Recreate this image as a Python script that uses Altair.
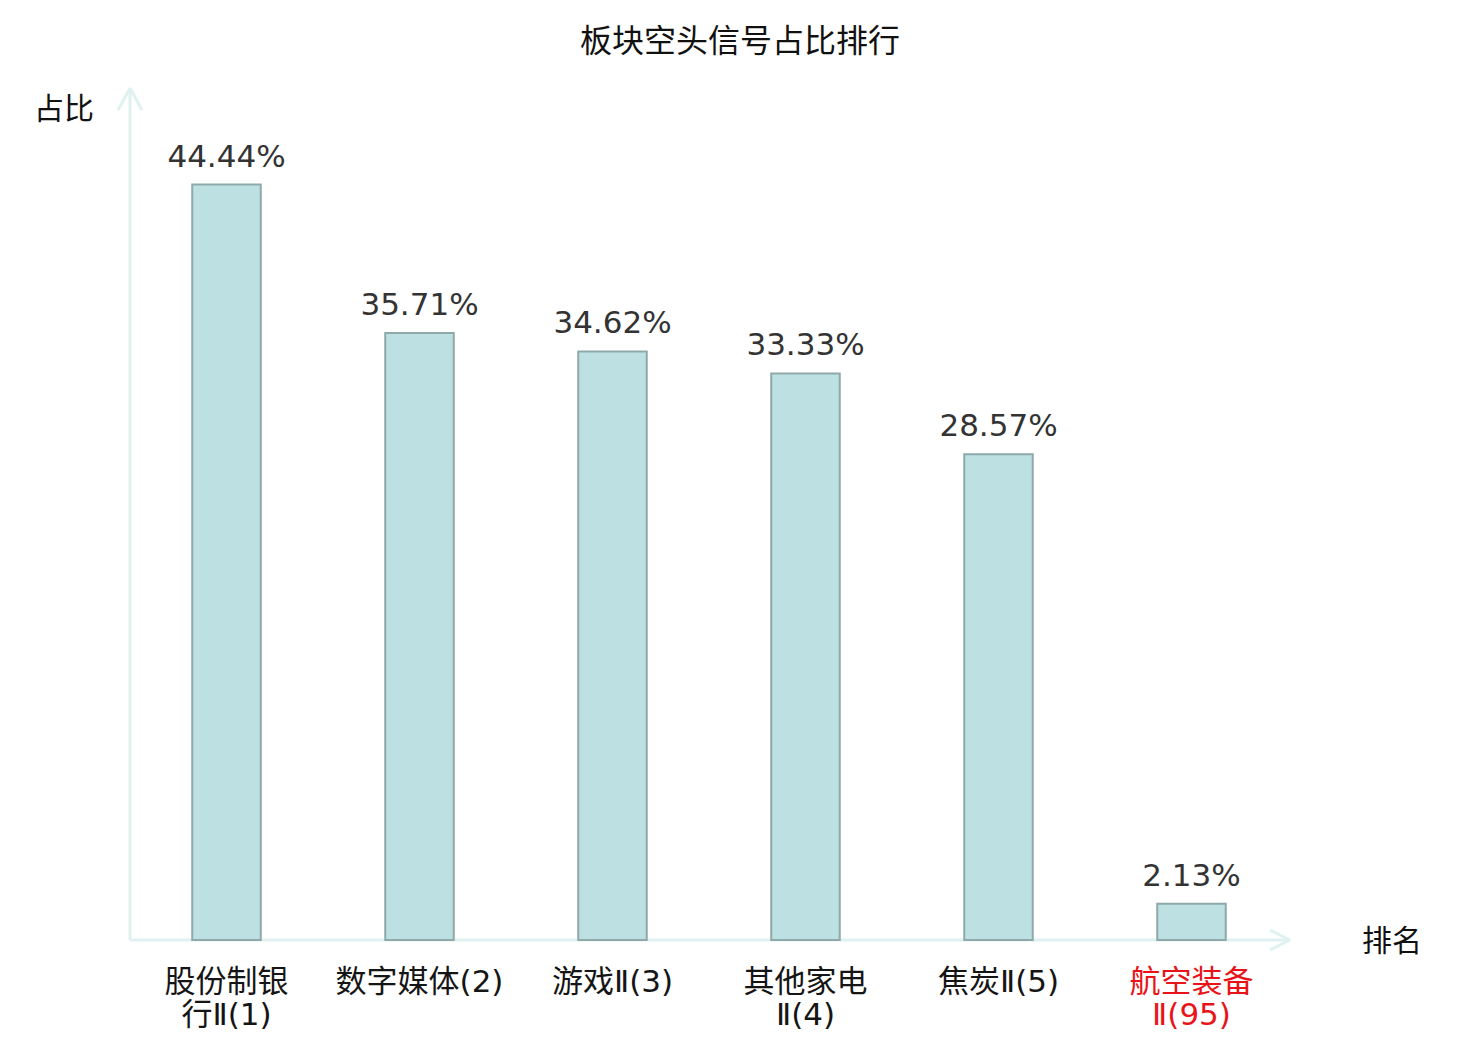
import altair as alt
import pandas as pd

categories = ["股份制银行Ⅱ(1)", "数字媒体(2)", "游戏Ⅱ(3)", "其他家电Ⅱ(4)", "焦炭Ⅱ(5)", "航空装备Ⅱ(95)"]
display_labels = ["股份制银\n行Ⅱ(1)", "数字媒体(2)", "游戏Ⅱ(3)", "其他家电\nⅡ(4)", "焦炭Ⅱ(5)", "航空装备\nⅡ(95)"]
values = [44.44, 35.71, 34.62, 33.33, 28.57, 2.13]
highlight = [False, False, False, False, False, True]

df = pd.DataFrame({
    "cat": categories,
    "label": display_labels,
    "value": values,
    "vtext": [f"{v:.2f}%" for v in values],
    "hl": highlight,
})

W, H = 1158, 850
NUMFONT = "DejaVu Sans"
LABFONT = "DejaVu Sans, Noto Sans CJK SC"
CJK = "Noto Sans CJK SC"
AXC = "#dff2ef"

x = alt.X("cat:N", sort=categories, axis=None, scale=alt.Scale(paddingInner=0.645, paddingOuter=0.3225))
y = alt.Y("value:Q", axis=None, scale=alt.Scale(domain=[0, 50]))

base = alt.Chart(df)

bars = base.mark_bar(color="#bde0e3", stroke="#8fa9aa", strokeWidth=2).encode(x=x, y=y)

vlabels = base.mark_text(font=NUMFONT, fontSize=31, color="#333333", baseline="alphabetic", dy=-18).encode(
    x=x, y=y, text="vtext:N"
)

clabels = base.mark_text(font=LABFONT, fontSize=31, baseline="middle", lineBreak="\n", lineHeight=33).encode(
    x=x,
    y=alt.value(H + 43),
    text="label:N",
    color=alt.condition("datum.hl", alt.value("#e8141a"), alt.value("#151515")),
)

one = alt.Data(values=[{"a": 1}])
def seg(x1, y1, x2, y2):
    return alt.Chart(one).mark_rule(color=AXC, strokeWidth=3).encode(
        x=alt.value(x1), y=alt.value(y1), x2=alt.value(x2), y2=alt.value(y2)
    )

axes = [
    seg(0, -2, 0, H),
    seg(0, H, 1160, H),
    seg(0, -2, -12, 20),
    seg(0, -2, 12, 20),
    seg(1160, H, 1140, H - 10),
    seg(1160, H, 1140, H + 10),
]

def txt(s, xv, yv, size=30, color="#111111"):
    return alt.Chart(one).mark_text(font=CJK, fontSize=size, color=color, baseline="middle", align="center").encode(
        x=alt.value(xv), y=alt.value(yv), text=alt.value(s)
    )

title = txt("板块空头信号占比排行", 610, -48, size=32)
ytitle = txt("占比", -66, 20, size=30)
xtitle = txt("排名", 1262, H + 2, size=30)

chart = alt.layer(*axes, bars, vlabels, clabels, title, ytitle, xtitle).properties(
    width=W, height=H,
    autosize=alt.AutoSizeParams(type="none"),
    padding={"left": 122, "top": 82, "right": 180, "bottom": 100},
).configure(background="white").configure_view(stroke=None)

chart.save("out.html", embed_options={"renderer": "svg", "actions": False})
